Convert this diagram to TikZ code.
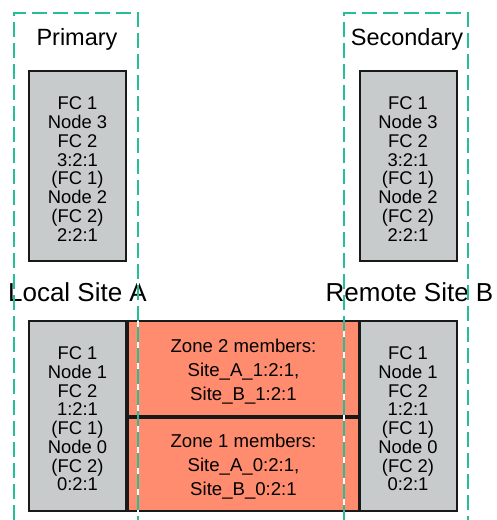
\documentclass[tikz,border=0pt]{standalone}
\usepackage{fontspec}
\setmainfont{Liberation Sans}
\definecolor{nodegray}{RGB}{200,203,204}
\definecolor{zoneorange}{RGB}{255,140,110}
\definecolor{sitegreen}{RGB}{38,190,150}
\tikzset{
  nodebox/.style={draw=black!90, line width=2pt, fill=nodegray,
    minimum width=97pt, minimum height=190pt, inner sep=0pt},
  nodetext/.style={align=center, inner sep=0pt,
    font=\fontsize{18.4}{18.75}\selectfont},
  zonebox/.style={draw=black!90, line width=2pt, fill=zoneorange,
    minimum width=231pt, inner sep=0pt},
  zonetext/.style={align=center, inner sep=0pt,
    font=\fontsize{18.6}{24}\selectfont},
  rolelabel/.style={anchor=base, font=\fontsize{23.5}{26}\selectfont},
  sitelabel/.style={anchor=base, font=\fontsize{26}{28}\selectfont},
  siteframe/.style={draw=sitegreen, line width=2pt, dash pattern=on 15pt off 6pt},
  frameback/.style={draw=white, line width=2pt}
}
\begin{document}
\begin{tikzpicture}[x=1pt,y=-1pt]
  \useasboundingbox (0,0) rectangle (496,520);

  % role labels
  \node[rolelabel] (primary) at (77,45) {Primary};
  \node[rolelabel] (secondary) at (407,45) {Secondary};

  % controller node pairs, upper row
  \node[nodebox] (pA) at (77.5,166) {};
  \node[nodebox] (sB) at (408,166) {};
  \node[nodetext] (pAtext) at ([yshift=-3pt]pA.center) {FC 1\\Node 3\\FC 2\\3:2:1\\(FC 1)\\Node 2\\(FC 2)\\2:2:1};
  \node[nodetext] (sBtext) at ([yshift=-3pt]sB.center) {FC 1\\Node 3\\FC 2\\3:2:1\\(FC 1)\\Node 2\\(FC 2)\\2:2:1};

  % site labels
  \node[sitelabel] (siteA) at (77.5,301) {Local Site A};
  \node[sitelabel] (siteB) at (409.5,301) {Remote Site B};

  % zones spanning both sites
  \node[zonebox, minimum height=95pt] (zone2) at (243.5,368.5) {};
  \node[zonebox, minimum height=93pt] (zone1) at (243.5,464.5) {};
  \node[zonetext] (zone2text) at ([yshift=-3pt]zone2.center) {Zone 2 members:\\Site\_A\_1:2:1,\\Site\_B\_1:2:1};
  \node[zonetext] (zone1text) at ([yshift=-2pt]zone1.center) {Zone 1 members:\\Site\_A\_0:2:1,\\Site\_B\_0:2:1};

  % controller node pairs, lower row
  \node[nodebox] (lA) at (77.5,416) {};
  \node[nodebox] (lB) at (408,416) {};
  \node[nodetext] (lAtext) at ([yshift=-3pt]lA.center) {FC 1\\Node 1\\FC 2\\1:2:1\\(FC 1)\\Node 0\\(FC 2)\\0:2:1};
  \node[nodetext] (lBtext) at ([yshift=-3pt]lB.center) {FC 1\\Node 1\\FC 2\\1:2:1\\(FC 1)\\Node 0\\(FC 2)\\0:2:1};

  % open dashed frames of the primary and secondary roles
  \coordinate (fAbl) at (14,520);
  \coordinate (fAtl) at (14,13);
  \coordinate (fAtr) at (138,13);
  \coordinate (fAbr) at (138,520);
  \coordinate (fBbl) at (344,520);
  \coordinate (fBtl) at (344,13);
  \coordinate (fBtr) at (468,13);
  \coordinate (fBbr) at (468,520);
  \draw[frameback] (fAbl) -- (fAtl) -- (fAtr) -- (fAbr);
  \draw[frameback] (fBbl) -- (fBtl) -- (fBtr) -- (fBbr);
  \draw[siteframe] (fAbl) -- (fAtl) -- (fAtr) -- (fAbr);
  \draw[siteframe] (fBbl) -- (fBtl) -- (fBtr) -- (fBbr);
\end{tikzpicture}
\end{document}
